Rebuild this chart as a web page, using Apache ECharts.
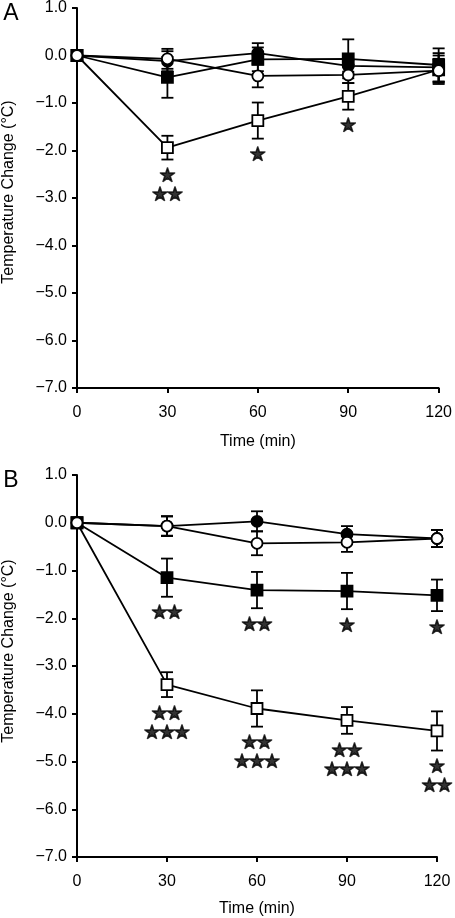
<!DOCTYPE html>
<html>
<head>
<meta charset="utf-8">
<script src="https://cdn.jsdelivr.net/npm/echarts@6/dist/echarts.min.js"></script>
<style>
html,body{margin:0;padding:0;background:#fff;}
#chart{width:455px;height:918px;}
</style>
</head>
<body>
<div id="chart"></div>
<script>
// ---- data ----
const times = [0, 30, 60, 90, 120];
const xTicks = [0, 30, 60, 90, 120];
const yTicks = [1, 0, -1, -2, -3, -4, -5, -6, -7];

// Panel A
const aOpenSq      = [0, -1.94, -1.37, -0.86, -0.30];
const aOpenSqErr   = [0, 0.25, 0.38, 0.28, 0.30];
const aFillSq      = [0, -0.46, -0.08, -0.07, -0.20];
const aFillSqErr   = [0, 0.43, 0.25, 0.41, 0.35];
const aFillCi      = [0, -0.12, 0.05, -0.22, -0.25];
const aFillCiErr   = [0, 0.21, 0.21, 0.12, 0.30];
const aOpenCi      = [0, -0.07, -0.43, -0.41, -0.32];
const aOpenCiErr   = [0, 0.21, 0.24, 0.17, 0.25];
const aOpenSqStars = ['', '★\n★★', '★', '★', ''];
const aFillSqStars = ['', '', '', '', ''];

// Panel B
const bOpenSq      = [0, -3.39, -3.89, -4.14, -4.36];
const bOpenSqErr   = [0, 0.26, 0.38, 0.28, 0.41];
const bFillSq      = [0, -1.15, -1.41, -1.43, -1.52];
const bFillSqErr   = [0, 0.40, 0.38, 0.38, 0.33];
const bFillCi      = [0, -0.07, 0.03, -0.24, -0.33];
const bFillCiErr   = [0, 0.20, 0.21, 0.17, 0.18];
const bOpenCi      = [0, -0.07, -0.43, -0.41, -0.33];
const bOpenCiErr   = [0, 0.21, 0.25, 0.20, 0.18];
const bOpenSqStars = ['', '★★\n★★★', '★★\n★★★', '★★\n★★★', '★\n★★'];
const bFillSqStars = ['', '★★', '★★', '★', '★'];

// ---- chart ----
const FONT = '"Liberation Sans", Arial, Helvetica, sans-serif';
const chart = echarts.init(document.getElementById('chart'), null, {renderer: 'canvas'});

function fmtY(v) {
  const s = Math.abs(v).toFixed(1);
  return v < 0 ? '\u2212' + s : s;
}

function xAxisDef(gi, gap) {
  return {
    gridIndex: gi, type: 'value', min: 0, max: 120, interval: 30,
    axisLine: {onZero: false, lineStyle: {color: '#000', width: 2}},
    axisTick: {length: 5, lineStyle: {color: '#000', width: 2}},
    axisLabel: {color: '#000', fontSize: 16, fontFamily: FONT, margin: 17},
    splitLine: {show: false},
    name: 'Time (min)', nameLocation: 'middle', nameGap: gap,
    nameTextStyle: {color: '#000', fontSize: 16, fontFamily: FONT}
  };
}
function yAxisDef(gi) {
  return {
    gridIndex: gi, type: 'value', min: -7, max: 1, interval: 1,
    axisLine: {show: true, lineStyle: {color: '#000', width: 2}},
    axisTick: {show: true, length: 5, lineStyle: {color: '#000', width: 2}},
    axisLabel: {color: '#000', fontSize: 16, fontFamily: FONT, margin: 10,
      formatter: fmtY},
    splitLine: {show: false}
  };
}

function errSeries(gi, vals, errs) {
  return {
    type: 'custom', xAxisIndex: gi, yAxisIndex: gi, z: 1, silent: true,
    data: times.map((t, i) => [t, vals[i], errs[i]]),
    renderItem: function (params, api) {
      const x = api.value(0), y = api.value(1), e = api.value(2);
      if (!e) return null;
      const top = api.coord([x, y + e]);
      const bot = api.coord([x, y - e]);
      const w = 6;
      const st = {stroke: '#000', lineWidth: 1.8};
      return {
        type: 'group', children: [
          {type: 'line', shape: {x1: top[0], y1: top[1], x2: bot[0], y2: bot[1]}, style: st},
          {type: 'line', shape: {x1: top[0] - w, y1: top[1], x2: top[0] + w, y2: top[1]}, style: st},
          {type: 'line', shape: {x1: bot[0] - w, y1: bot[1], x2: bot[0] + w, y2: bot[1]}, style: st}
        ]
      };
    }
  };
}

function lineSeries(gi, vals, symbol, filled, z) {
  return {
    type: 'line', xAxisIndex: gi, yAxisIndex: gi, z: z,
    data: times.map((t, i) => [t, vals[i]]),
    symbol: symbol, symbolSize: 11, showSymbol: true,
    lineStyle: {color: '#000', width: 1.8},
    itemStyle: {color: filled ? '#000' : '#fff', borderColor: '#000', borderWidth: 1.8},
    emphasis: {disabled: true}, animation: false
  };
}

function starSeries(gi, vals, errs, stars) {
  const data = [];
  times.forEach((t, i) => {
    if (!stars[i]) return;
    const n = stars[i].split('\n').length;
    data.push({
      value: [t, vals[i] - errs[i]],
      label: {formatter: stars[i], offset: [0, 15 + (n - 1) * 9.5]}
    });
  });
  return {
    type: 'scatter', xAxisIndex: gi, yAxisIndex: gi, z: 5, silent: true,
    symbolSize: 0, data: data,
    label: {show: true, position: 'inside', color: '#000', fontSize: 15,
      fontFamily: '"Noto Sans CJK SC"', lineHeight: 19,
      textBorderColor: '#000', textBorderWidth: 1.6,
      align: 'center', verticalAlign: 'middle'}
  };
}

function panelSeries(gi, oSq, oSqE, fSq, fSqE, fCi, fCiE, oCi, oCiE, oStars, fStars) {
  return [
    errSeries(gi, oSq, oSqE),
    errSeries(gi, fSq, fSqE),
    errSeries(gi, fCi, fCiE),
    errSeries(gi, oCi, oCiE),
    lineSeries(gi, oSq, 'rect', false, 2),
    lineSeries(gi, fSq, 'rect', true, 3),
    lineSeries(gi, fCi, 'circle', true, 4),
    lineSeries(gi, oCi, 'circle', false, 5),
    starSeries(gi, oSq, oSqE, oStars),
    starSeries(gi, fSq, fSqE, fStars)
  ];
}

function textEl(txt, x, y, size, rot) {
  return {
    type: 'text', x: x, y: y, rotation: rot || 0,
    style: {text: txt, fill: '#000', font: size + 'px ' + FONT,
      textAlign: 'center', textVerticalAlign: 'middle', align: 'center', verticalAlign: 'middle'}
  };
}

chart.setOption({
  animation: false,
  backgroundColor: '#fff',
  grid: [
    {left: 77, top: 8, width: 364, height: 380},
    {left: 77, top: 475, width: 360, height: 382}
  ],
  xAxis: [xAxisDef(0, 46), xAxisDef(1, 44)],
  yAxis: [yAxisDef(0), yAxisDef(1)],
  graphic: [
    textEl('A', 11, 14, 23),
    textEl('B', 11, 481, 23),
    textEl('Temperature Change (°C)', 9, 192, 16, Math.PI / 2),
    textEl('Temperature Change (°C)', 9, 651, 16, Math.PI / 2)
  ],
  series: [].concat(
    panelSeries(0, aOpenSq, aOpenSqErr, aFillSq, aFillSqErr, aFillCi, aFillCiErr, aOpenCi, aOpenCiErr, aOpenSqStars, aFillSqStars),
    panelSeries(1, bOpenSq, bOpenSqErr, bFillSq, bFillSqErr, bFillCi, bFillCiErr, bOpenCi, bOpenCiErr, bOpenSqStars, bFillSqStars)
  )
});
</script>
</body>
</html>
